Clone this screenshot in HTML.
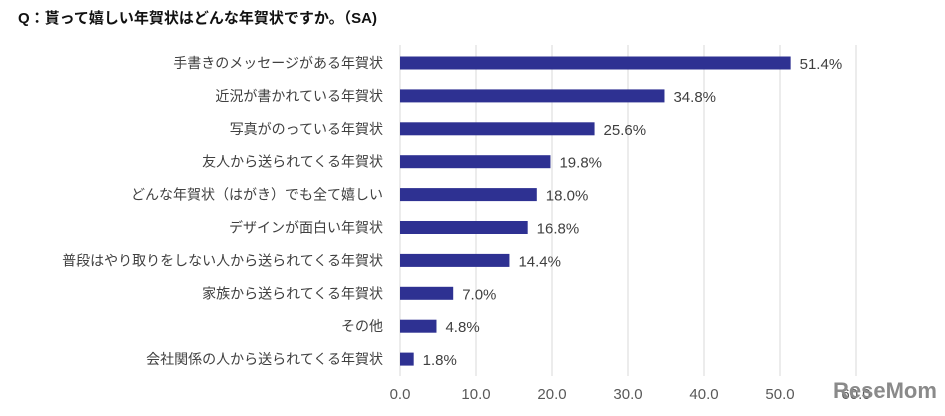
<!DOCTYPE html>
<html><head><meta charset="utf-8"><style>
body{margin:0;background:#fff;width:945px;height:411px;overflow:hidden;font-family:"Liberation Sans","Noto Sans CJK JP",sans-serif}
</style></head><body>
<svg id="c" width="945" height="411">
<text x="18" y="23" font-size="15" font-weight="bold" fill="#111">Q：貰って嬉しい年賀状はどんな年賀状ですか。（SA)</text>
<g id="grid"></g><g id="bars"></g>
<text x="833" y="398" font-size="22" font-weight="bold" fill="#8a8a8a" font-family="Liberation Sans, sans-serif">ReseMom</text>
</svg>
<script>
const categories=["手書きのメッセージがある年賀状","近況が書かれている年賀状","写真がのっている年賀状","友人から送られてくる年賀状","どんな年賀状（はがき）でも全て嬉しい","デザインが面白い年賀状","普段はやり取りをしない人から送られてくる年賀状","家族から送られてくる年賀状","その他","会社関係の人から送られてくる年賀状"];
const values=[51.4,34.8,25.6,19.8,18.0,16.8,14.4,7.0,4.8,1.8];
const ticks=[0,10,20,30,40,50,60];
const NS="http://www.w3.org/2000/svg";
const x=v=>400+v*7.6;
const y=i=>63+i*32.9;
function mk(t,a,p,txt){const e=document.createElementNS(NS,t);for(const k in a)e.setAttribute(k,a[k]);if(txt!=null)e.textContent=txt;p.appendChild(e);return e;}
const g=document.getElementById('grid'),b=document.getElementById('bars');
ticks.forEach(t=>{
  const l=mk('line',{x1:x(t),x2:x(t),y1:45,y2:376,stroke:'#d9d9d9','stroke-width':1},g);
  
  
  const tx=mk('text',{x:x(t),y:399,'text-anchor':'middle','font-size':15,fill:'#595959'},g,t.toFixed(1));
  
  
});
categories.forEach((c,i)=>{
  const lb=mk('text',{x:383,y:y(i)+5,'text-anchor':'end','font-size':14,fill:'#404040'},b,c);
  
  
  const r=mk('rect',{x:x(0),y:y(i)-6.5,width:x(values[i])-x(0),height:13,fill:'#2e3192'},b);
  
  
  const v=mk('text',{x:x(values[i])+9,y:y(i)+6,'font-size':15,fill:'#404040'},b,values[i].toFixed(1)+'%');
  
  
});
</script>
</body></html>
